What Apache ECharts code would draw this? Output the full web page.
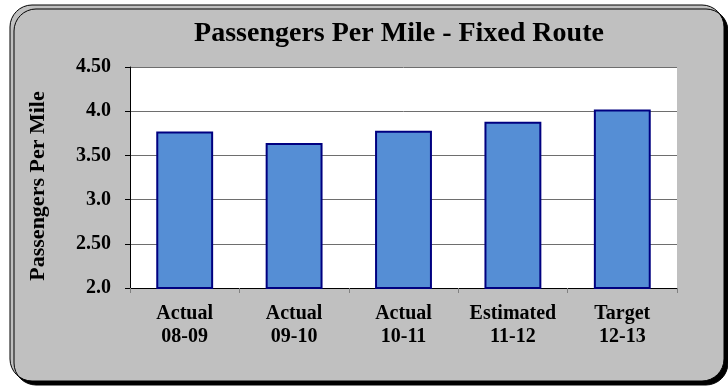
<!DOCTYPE html>
<html>
<head>
<meta charset="utf-8">
<script src="https://cdn.jsdelivr.net/npm/echarts@6/dist/echarts.min.js"></script>
<style>
  html, body { margin: 0; padding: 0; background: #ffffff; }
  #chart { width: 728px; height: 386px; }
</style>
</head>
<body>
<div id="chart"></div>
<script>
// Fiscal-year categories (two-line labels)
const categories = ['Actual\n08-09', 'Actual\n09-10', 'Actual\n10-11', 'Estimated\n11-12', 'Target\n12-13'];
// Passengers per mile, fixed route
const passengersPerMile = [3.77, 3.64, 3.78, 3.88, 4.02];
// Y-axis tick values and their printed labels
const yTickValues = [2.0, 2.5, 3.0, 3.5, 4.0, 4.5];
const yTickLabels = ['2.0', '2.50', '3.0', '3.50', '4.0', '4.50'];
const yAxisTitle = 'Passengers Per Mile';

const serif = '"Liberation Serif", "Times New Roman", serif';

const chart = echarts.init(document.getElementById('chart'), null, { renderer: 'canvas' });

chart.setOption({
  animation: false,
  backgroundColor: '#ffffff',
  graphic: [{
    type: 'rect',
    z: -100,
    silent: true,
    shape: { x: 10, y: 5, width: 714, height: 376, r: 22 },
    style: {
      fill: '#c0c0c0',
      stroke: '#000000',
      lineWidth: 1,
      shadowColor: '#000000',
      shadowOffsetX: 4,
      shadowOffsetY: 4,
      shadowBlur: 0
    }
  }, {
    // vertical axis title
    type: 'text',
    silent: true,
    x: 38,
    y: 186,
    rotation: Math.PI / 2,
    style: {
      text: yAxisTitle,
      align: 'center',
      verticalAlign: 'middle',
      fontFamily: serif,
      fontWeight: 'bold',
      fontSize: 22,
      fill: '#000'
    }
  }],
  title: {
    text: 'Passengers Per Mile - Fixed Route',
    left: 399,
    top: 20,
    textAlign: 'center',
    padding: 0,
    textStyle: { fontFamily: serif, fontWeight: 'bold', fontSize: 28, color: '#000' }
  },
  grid: {
    left: 130, right: 51, top: 67, bottom: 98,
    show: true, backgroundColor: '#ffffff', borderWidth: 0
  },
  xAxis: {
    type: 'category',
    data: categories,
    axisLine: { show: true, lineStyle: { color: '#000', width: 1 } },
    axisTick: { show: true, alignWithLabel: false, interval: 0, length: 5, lineStyle: { color: '#808080' } },
    axisLabel: {
      interval: 0,
      margin: 14,
      fontFamily: serif, fontWeight: 'bold', fontSize: 20, lineHeight: 23, color: '#000'
    }
  },
  yAxis: {
    type: 'value',
    min: 2.0, max: 4.5, interval: 0.5,
    axisLine: { show: true, lineStyle: { color: '#000', width: 1 } },
    axisTick: { show: true, length: 5, lineStyle: { color: '#000' } },
    axisLabel: {
      margin: 19,
      fontFamily: serif, fontWeight: 'bold', fontSize: 20, color: '#000',
      formatter: function (v) {
        const i = yTickValues.findIndex(function (t) { return Math.abs(t - v) < 1e-6; });
        return i >= 0 ? yTickLabels[i] : '';
      }
    },
    splitLine: { show: true, lineStyle: { color: '#6e6e6e', width: 1 } }
  },
  series: [{
    type: 'bar',
    data: passengersPerMile,
    barWidth: '52%',
    itemStyle: { color: '#558ed5', borderColor: '#000080', borderWidth: 2 }
  }]
});
</script>
</body>
</html>
